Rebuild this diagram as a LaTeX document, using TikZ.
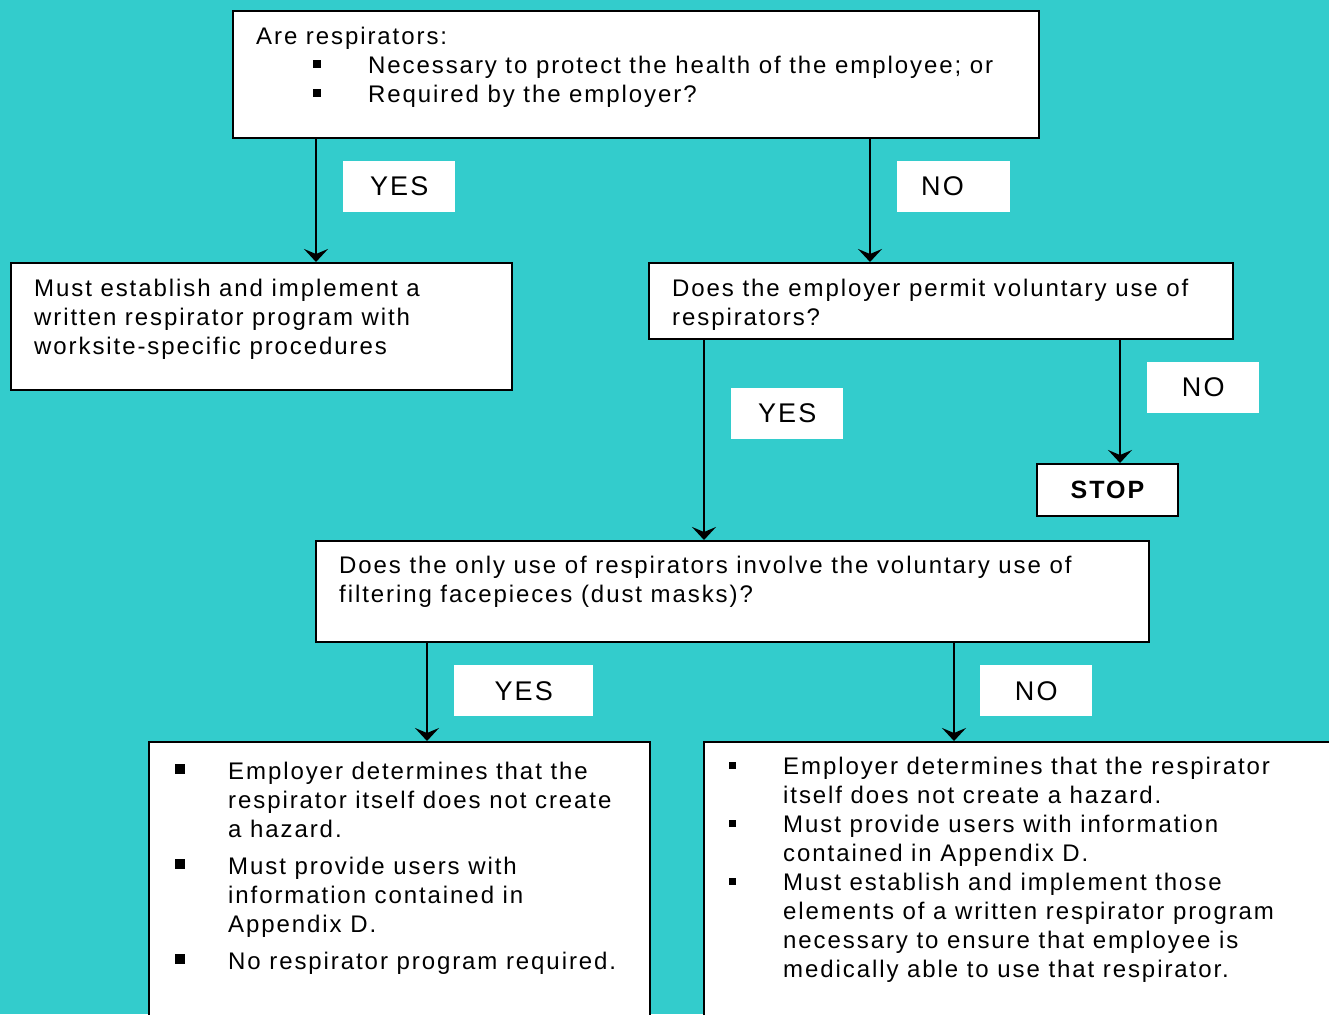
\documentclass[tikz,border=0pt]{standalone}
\usepackage{fontspec}
\setmainfont{Liberation Sans}[LetterSpace=8]
\usetikzlibrary{arrows.meta}
\definecolor{bg}{RGB}{51,204,204}
\newcommand{\bodyfont}{\fontsize{24}{29}\selectfont}
\newcommand{\tagfont}{\fontsize{27}{32}\selectfont}
\newcommand{\stopfont}{\fontsize{25}{30}\selectfont\bfseries}
\begin{document}
\begin{tikzpicture}[x=1pt,y=-1pt,
  box/.style={draw=black, fill=white, line width=2pt, anchor=north west, inner sep=0pt},
  txt/.style={anchor=north west, inner sep=0pt, align=left, font=\bodyfont},
  tagbox/.style={fill=white, anchor=north west, inner sep=0pt, minimum height=51pt, font=\tagfont},
  bul/.style={fill=black, inner sep=0pt, minimum size=#1},
  arr/.style={line width=2pt, -{Stealth[length=13pt,width=24pt,inset=5pt]}}
]
\fill[bg] (0,0) rectangle (1329,1014);
\useasboundingbox (0,0) rectangle (1329,1014);
\clip (0,0) rectangle (1329,1014);

% boxes
\node[box, minimum width=806pt, minimum height=127pt] (q1) at (232,10) {};
\node[box, minimum width=501pt, minimum height=127pt] (a1) at (10,262) {};
\node[box, minimum width=584pt, minimum height=76pt] (q2) at (648,262) {};
\node[box, minimum width=141pt, minimum height=52pt, font=\stopfont] (stop) at (1036,463) {STOP};
\node[box, minimum width=833pt, minimum height=101pt] (q3) at (315,540) {};
\node[box, minimum width=501pt, minimum height=320pt] (r1) at (148,741) {};
\node[box, minimum width=660pt, minimum height=320pt] (r2) at (703,741) {};

% texts
\node[txt] (q1t) at (256,24) {\strut Are respirators:};
\node[txt] (q1l) at (368,53) {\strut Necessary to protect the health of the employee; or\\Required by the employer?};
\node[bul=8pt] (q1b1) at (317,64) {};
\node[bul=8pt] (q1b2) at (317,93) {};

\node[txt] (a1t) at (34,276) {\strut Must establish and implement a\\written respirator program with\\worksite-specific procedures};
\node[txt] (q2t) at (672,276) {\strut Does the employer permit voluntary use of\\respirators?};
\node[txt] (q3t) at (339,553) {\strut Does the only use of respirators involve the voluntary use of\\filtering facepieces (dust masks)?};

\node[txt] (r1t) at (228,759) {\strut Employer determines that the\\respirator itself does not create\\a hazard.\\[8pt]Must provide users with\\information contained in\\Appendix D.\\[8pt]No respirator program required.};
\node[bul=10pt] (r1b1) at (180,769) {};
\node[bul=10pt] (r1b2) at (180,864) {};
\node[bul=10pt] (r1b3) at (180,959) {};

\node[txt] (r2t) at (783,754) {\strut Employer determines that the respirator\\itself does not create a hazard.\\Must provide users with information\\contained in Appendix D.\\Must establish and implement those\\elements of a written respirator program\\necessary to ensure that employee is\\medically able to use that respirator.};
\node[bul=7pt] (r2b1) at (732.5,765) {};
\node[bul=7pt] (r2b2) at (732.5,823) {};
\node[bul=7pt] (r2b3) at (732.5,881) {};

% connectors
\coordinate (c1) at (316,0);
\coordinate (c2) at (870,0);
\coordinate (c3) at (704,0);
\coordinate (c4) at (1120,0);
\coordinate (c5) at (427,0);
\coordinate (c6) at (954,0);
\draw[arr] (q1.south -| c1) -- (a1.north -| c1);
\draw[arr] (q1.south -| c2) -- (q2.north -| c2);
\draw[arr] (q2.south -| c3) -- (q3.north -| c3);
\draw[arr] (q2.south -| c4) -- (stop.north -| c4);
\draw[arr] (q3.south -| c5) -- (r1.north -| c5);
\draw[arr] (q3.south -| c6) -- (r2.north -| c6);

% labels
\node[tagbox, minimum width=112pt] (y1) at (343,161) {YES};
\node[tagbox, minimum width=113pt, text width=65pt, align=left] (n1) at (897,161) {NO};
\node[tagbox, minimum width=112pt] (y2) at (731,388) {YES};
\node[tagbox, minimum width=112pt] (n2) at (1147,362) {NO};
\node[tagbox, minimum width=139pt] (y3) at (454,665) {YES};
\node[tagbox, minimum width=112pt] (n3) at (980,665) {NO};
\end{tikzpicture}
\end{document}
